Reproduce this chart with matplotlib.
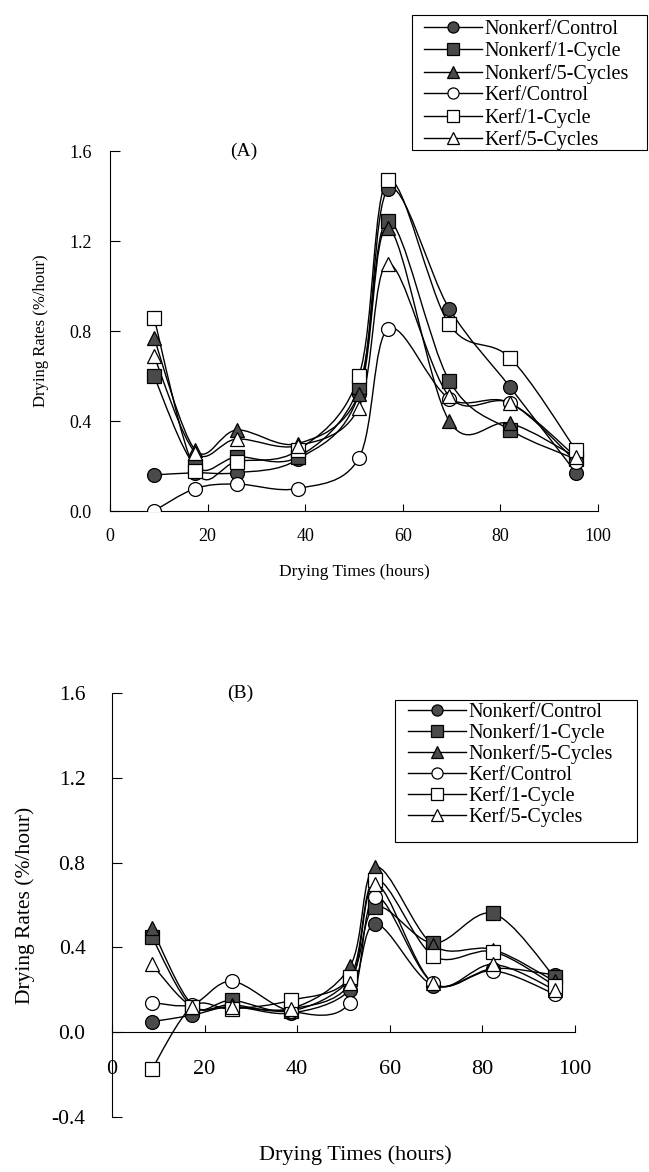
import numpy as np
import matplotlib
matplotlib.use("Agg")
import matplotlib.pyplot as plt
from matplotlib.path import Path
from matplotlib.patches import PathPatch, Rectangle
from matplotlib.lines import Line2D

plt.rcParams['font.family'] = ['Liberation Serif', 'DejaVu Serif']

# ---------------- data ----------------
times_a = [9, 17.5, 26, 38.5, 51, 57, 69.5, 82, 95.5]
times_b = [8.6, 17.3, 25.9, 38.6, 51.4, 56.9, 69.4, 82.3, 95.6]

series_names = ["Nonkerf/Control", "Nonkerf/1-Cycle", "Nonkerf/5-Cycles",
                "Kerf/Control", "Kerf/1-Cycle", "Kerf/5-Cycles"]

a_nonkerf_control = [0.16, 0.17, 0.17, 0.23, 0.52, 1.43, 0.90, 0.55, 0.17]
a_nonkerf_1cycle = [0.60, 0.20, 0.24, 0.24, 0.55, 1.29, 0.58, 0.36, 0.23]
a_nonkerf_5cycles = [0.77, 0.27, 0.36, 0.30, 0.52, 1.26, 0.40, 0.39, 0.24]
a_kerf_control = [0.00, 0.10, 0.12, 0.10, 0.235, 0.81, 0.50, 0.48, 0.22]
a_kerf_1cycle = [0.86, 0.18, 0.22, 0.27, 0.60, 1.47, 0.83, 0.68, 0.27]
a_kerf_5cycles = [0.69, 0.26, 0.32, 0.29, 0.46, 1.10, 0.51, 0.48, 0.24]

b_nonkerf_control = [0.05, 0.08, 0.12, 0.09, 0.20, 0.51, 0.22, 0.30, 0.27]
b_nonkerf_1cycle = [0.45, 0.12, 0.15, 0.10, 0.25, 0.59, 0.42, 0.56, 0.26]
b_nonkerf_5cycles = [0.49, 0.13, 0.13, 0.11, 0.31, 0.78, 0.41, 0.39, 0.24]
b_kerf_control = [0.14, 0.13, 0.24, 0.10, 0.14, 0.64, 0.23, 0.29, 0.18]
b_kerf_1cycle = [-0.175, 0.12, 0.11, 0.15, 0.26, 0.72, 0.36, 0.38, 0.22]
b_kerf_5cycles = [0.32, 0.12, 0.12, 0.11, 0.23, 0.70, 0.23, 0.32, 0.20]

data_a = [a_nonkerf_control, a_nonkerf_1cycle, a_nonkerf_5cycles,
          a_kerf_control, a_kerf_1cycle, a_kerf_5cycles]
data_b = [b_nonkerf_control, b_nonkerf_1cycle, b_nonkerf_5cycles,
          b_kerf_control, b_kerf_1cycle, b_kerf_5cycles]

markers = ['o', 's', '^', 'o', 's', '^']
fill = '#4a4a4a'
faces = [fill, fill, fill, 'white', 'white', 'white']


def smooth_path(x, y):
    x = np.asarray(x, float)
    y = np.asarray(y, float)
    pts = np.column_stack([x, y])
    n = len(pts)
    verts = [pts[0]]
    codes = [Path.MOVETO]
    for i in range(n - 1):
        p0 = pts[i - 1] if i > 0 else pts[i]
        p1 = pts[i]
        p2 = pts[i + 1]
        p3 = pts[i + 2] if i + 2 < n else pts[i + 1]
        c1 = p1 + (p2 - p0) / 6.0
        c2 = p2 - (p3 - p1) / 6.0
        verts += [c1, c2, p2]
        codes += [Path.CURVE4] * 3
    return Path(verts, codes)


def draw_series(ax, times, data, ms):
    for vals in data:
        ax.add_patch(PathPatch(smooth_path(times, vals), facecolor='none',
                               edgecolor='black', lw=1.0, zorder=2))
    for vals, mk, fc in zip(data, markers, faces):
        ax.plot(times, vals, ls='none', marker=mk, ms=ms, mfc=fc, mec='black',
                mew=0.9, zorder=3)


def legend_handles():
    return [Line2D([], [], color='black', lw=1.0, marker=m, ms=8, mfc=f,
                   mec='black', mew=0.9) for m, f in zip(markers, faces)]


W, H = 649, 1172
fig = plt.figure(figsize=(W / 100, H / 100), dpi=100)


def px_rect(x0, y0, x1, y1):
    fig.patches.append(Rectangle((x0 / W, 1 - y1 / H), (x1 - x0) / W, (y1 - y0) / H,
                                 transform=fig.transFigure, fill=False,
                                 edgecolor='black', lw=0.8))


# ---------------- panel A ----------------
axA = fig.add_axes([110 / W, 1 - 511 / H, 488 / W, 360 / H])
draw_series(axA, times_a, data_a, 10)
axA.set_xlim(0, 100)
axA.set_ylim(0, 1.6)
axA.set_xticks([0, 20, 40, 60, 80, 100])
axA.set_yticks([0.0, 0.4, 0.8, 1.2, 1.6])
axA.set_yticklabels(['0.0', '0.4', '0.8', '1.2', '1.6'])
for s in ['top', 'right']:
    axA.spines[s].set_visible(False)
axA.tick_params(axis='x', direction='in', length=5, width=0.8, pad=12, labelsize=13)
axA.tick_params(axis='y', direction='in', length=7, width=0.8, pad=13, labelsize=13)
axA.set_xlabel('Drying Times (hours)', fontsize=12.5, labelpad=14)
axA.set_ylabel('Drying Rates (%/hour)', fontsize=12, labelpad=15)
axA.text(27.5, 1.6, '(A)', ha='center', va='center', fontsize=14)

px_rect(412, 15, 647, 150)
fig.legend(legend_handles(), series_names, loc='upper left',
           bbox_to_anchor=(424 / W, 1 - 20 / H), fontsize=14.5,
           frameon=False, handlelength=2.9, handletextpad=0.1,
           labelspacing=0.12, borderpad=0, borderaxespad=0)

# ---------------- panel B ----------------
axB = fig.add_axes([112 / W, 1 - 1117 / H, 463 / W, 424 / H])
draw_series(axB, times_b, data_b, 10)
axB.set_xlim(0, 100)
axB.set_ylim(-0.4, 1.6)
axB.set_xticks([0, 20, 40, 60, 80, 100])
axB.set_yticks([-0.4, 0.0, 0.4, 0.8, 1.2, 1.6])
axB.set_yticklabels(['-0.4', '0.0', '0.4', '0.8', '1.2', '1.6'])
for s in ['top', 'right']:
    axB.spines[s].set_visible(False)
axB.spines['bottom'].set_position(('data', 0))
axB.tick_params(axis='x', direction='in', length=5, width=0.8, pad=20, labelsize=16)
axB.tick_params(axis='y', direction='in', length=7, width=0.8, pad=19, labelsize=15.5)
axB.set_ylabel('Drying Rates (%/hour)', fontsize=15.5, labelpad=12)
fig.text(355 / W, 1 - 1155 / H, 'Drying Times (hours)', ha='center', va='center',
         fontsize=16)
axB.text(27.6, 1.6, '(B)', ha='center', va='center', fontsize=14)

px_rect(395, 700, 637, 842)
fig.legend(legend_handles(), series_names, loc='upper left',
           bbox_to_anchor=(408 / W, 1 - 703 / H), fontsize=14.5,
           frameon=False, handlelength=2.9, handletextpad=0.1,
           labelspacing=0.06, borderpad=0, borderaxespad=0)

fig.savefig('out.png', dpi=100, facecolor='white')
